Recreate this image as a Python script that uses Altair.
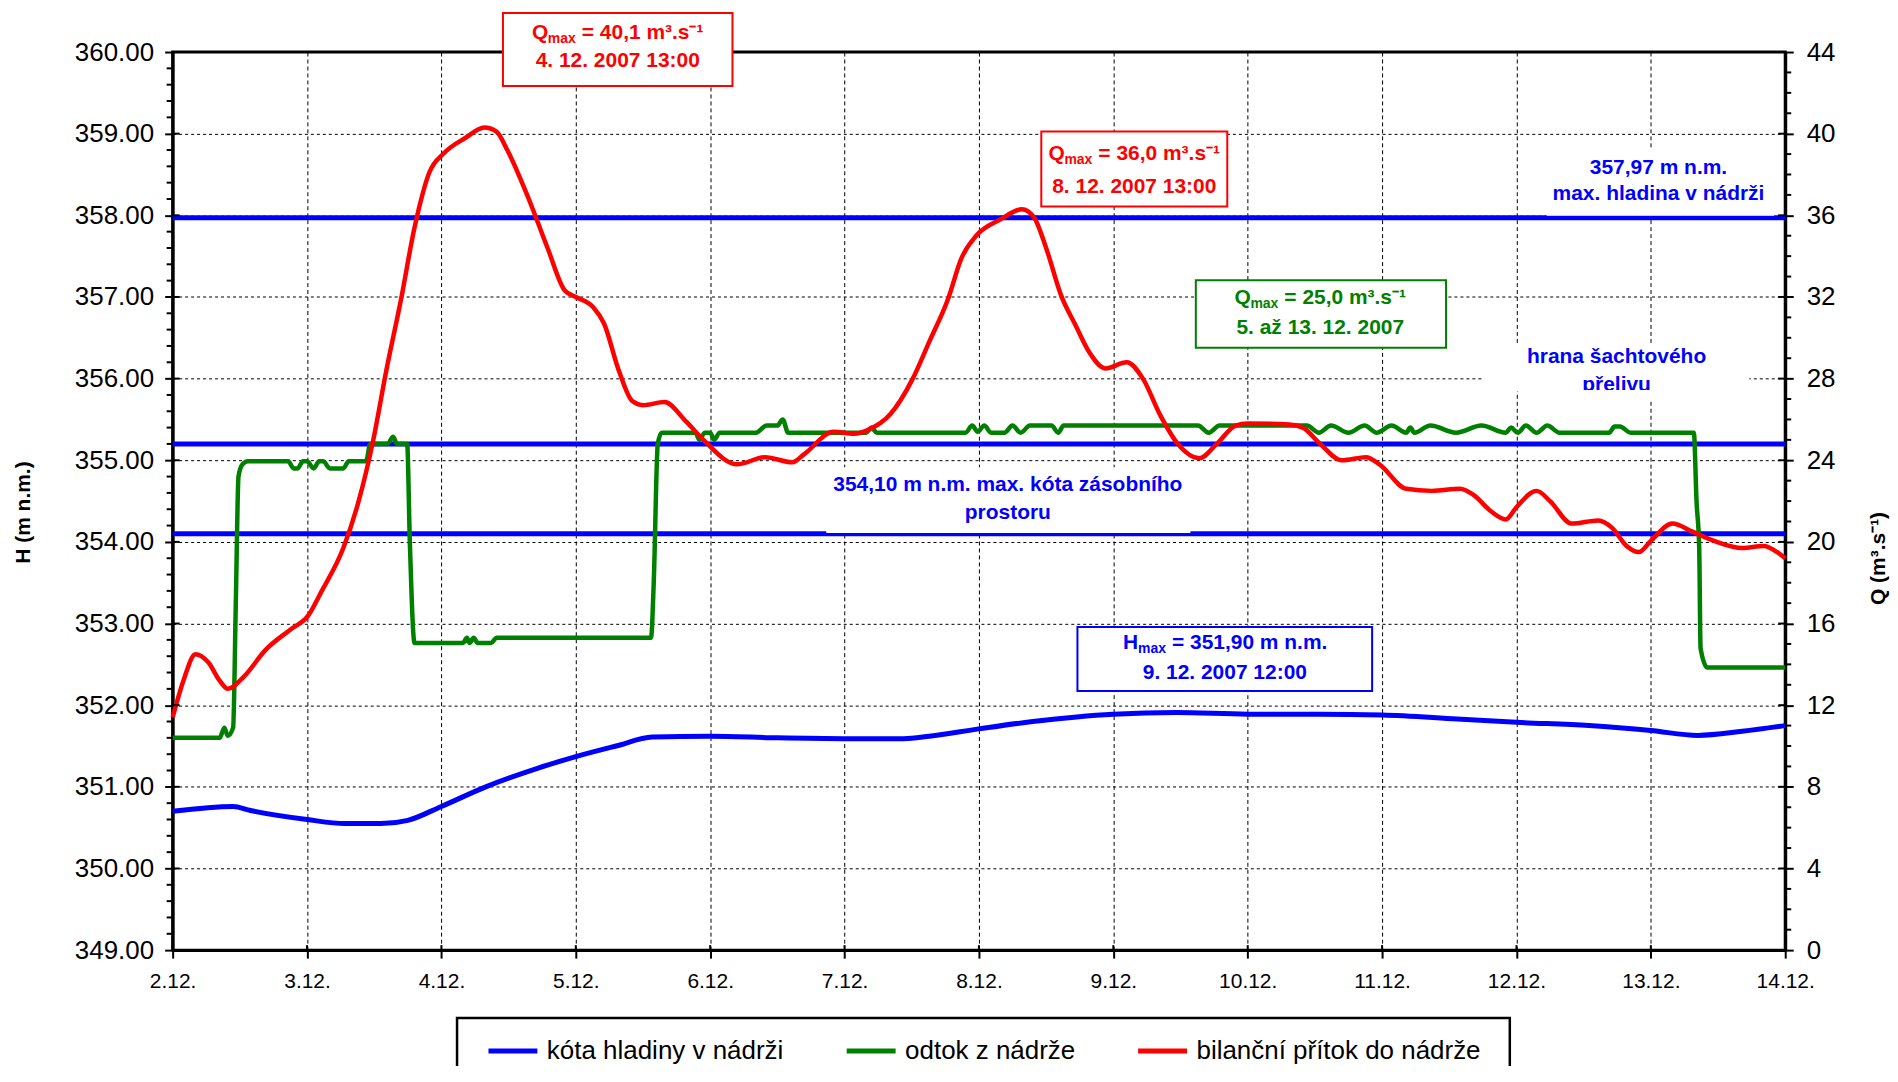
import altair as alt
import pandas as pd

# ---------------- data ----------------
day_labels = ["2.12.", "3.12.", "4.12.", "5.12.", "6.12.", "7.12.", "8.12.",
              "9.12.", "10.12.", "11.12.", "12.12.", "13.12.", "14.12."]
day_ticks = list(range(0, 13))
h_ticks = list(range(349, 361))
q_ticks = list(range(0, 45, 4))

series_names = ["kóta hladiny v nádrži", "odtok z nádrže", "bilanční přítok do nádrže"]
series_colors = ["#0000FF", "#008000", "#FF0000"]

# water level H (m n.m.), left axis
h_day = [0.0, 0.45, 0.58, 1.0, 1.28, 1.55, 1.75, 2.0, 2.33, 2.72, 3.0, 3.3, 3.57,
         4.0, 4.5, 5.0, 5.44, 5.63, 6.0, 6.4, 7.0, 7.47, 8.0, 8.53, 9.0, 9.56,
         10.0, 10.54, 11.0, 11.35, 11.68, 12.0]
h_val = [350.70, 350.76, 350.71, 350.60, 350.55, 350.55, 350.59, 350.76, 351.00,
         351.23, 351.37, 351.50, 351.61, 351.62, 351.60, 351.59, 351.59, 351.62,
         351.71, 351.80, 351.89, 351.91, 351.89, 351.89, 351.88, 351.83, 351.79,
         351.75, 351.69, 351.63, 351.68, 351.75]

# outflow Q (m3/s), right axis
out_day = [0.0, 0.35, 0.385, 0.41, 0.45, 0.47, 0.49, 0.52, 0.56, 0.86, 0.90, 0.93,
           0.97, 1.00, 1.05, 1.09, 1.12, 1.17, 1.27, 1.31, 1.44, 1.47, 1.60, 1.64,
           1.67, 1.745, 1.765, 1.80, 2.16, 2.19, 2.21, 2.24, 2.27, 2.37, 2.41, 3.56,
           3.58, 3.61, 3.64, 3.89, 3.92, 3.96, 4.00, 4.03, 4.07, 4.34, 4.42, 4.50,
           4.54, 4.58, 5.16, 5.20, 5.24, 5.90, 5.95, 5.99, 6.04, 6.09, 6.19, 6.25,
           6.31, 6.38, 6.54, 6.59, 6.63, 7.63, 7.71, 7.79, 8.44, 8.53, 8.62, 8.75,
           8.87, 8.96, 9.07, 9.18, 9.21, 9.24, 9.36, 9.55, 9.74, 9.92, 9.96, 10.01,
           10.07, 10.15, 10.23, 10.32, 10.38, 10.69, 10.73, 10.77, 10.85, 11.32,
           11.34, 11.36, 11.37, 11.42, 12.0]
out_q = [10.4, 10.4, 10.9, 10.5, 10.9, 17.0, 23.2, 23.8, 23.95, 23.95, 23.6, 23.6,
         23.95, 23.95, 23.6, 23.95, 23.95, 23.6, 23.6, 23.95, 23.95, 24.8, 24.8, 25.15,
         24.8, 24.8, 20.0, 15.05, 15.05, 15.3, 15.05, 15.3, 15.05, 15.05, 15.3, 15.3,
         18.0, 24.8, 25.35, 25.35, 25.0, 25.35, 25.35, 25.0, 25.35, 25.35, 25.7, 25.7,
         26.0, 25.35, 25.35, 25.6, 25.35, 25.35, 25.7, 25.4, 25.7, 25.35, 25.35, 25.7,
         25.35, 25.7, 25.7, 25.35, 25.7, 25.7, 25.35, 25.7, 25.7, 25.35, 25.7, 25.35,
         25.7, 25.35, 25.7, 25.35, 25.6, 25.35, 25.7, 25.35, 25.7, 25.35, 25.6, 25.35,
         25.7, 25.35, 25.7, 25.35, 25.35, 25.35, 25.65, 25.65, 25.35, 25.35,
         22.0, 19.7, 14.8, 13.85, 13.85]

# balance inflow Q (m3/s), right axis
in_day = [0.0, 0.08, 0.17, 0.265, 0.35, 0.41, 0.53, 0.69, 0.875, 1.01, 1.11, 1.27,
          1.38, 1.49, 1.59, 1.70, 1.80, 1.91, 2.02, 2.18, 2.32, 2.41, 2.49, 2.65,
          2.79, 2.92, 3.0, 3.13, 3.21, 3.32, 3.42, 3.5, 3.66, 3.82, 3.95, 4.2, 4.41,
          4.61, 4.70, 4.92, 5.07, 5.18, 5.34, 5.5, 5.63, 5.77, 5.87, 5.98, 6.16, 6.32,
          6.41, 6.5, 6.61, 6.72, 6.82, 6.94, 7.1, 7.22, 7.35, 7.48, 7.64, 7.77, 7.91,
          8.0, 8.31, 8.41, 8.54, 8.70, 8.88, 8.98, 9.18, 9.37, 9.58, 9.68, 9.81, 9.92,
          10.0, 10.15, 10.25, 10.41, 10.61, 10.71, 10.82, 10.91, 11.0, 11.16, 11.31,
          11.47, 11.68, 11.84, 11.94, 12.0]
in_q = [11.4, 13.2, 14.5, 14.1, 13.2, 12.8, 13.4, 14.7, 15.7, 16.4, 17.6, 19.7,
        21.9, 24.9, 28.4, 31.9, 35.4, 38.1, 39.05, 39.8, 40.3, 40.1, 39.2, 36.8,
        34.4, 32.3, 32.0, 31.5, 30.7, 28.4, 26.9, 26.7, 26.85, 25.9, 25.0, 23.8, 24.15,
        23.9, 24.3, 25.4, 25.3, 25.5, 26.25, 27.9, 29.8, 31.9, 33.9, 35.0, 35.8, 36.3,
        35.9, 34.4, 32.1, 30.6, 29.3, 28.5, 28.8, 28.0, 26.2, 24.8, 24.1, 24.8, 25.7,
        25.8, 25.75, 25.6, 24.8, 24.0, 24.15, 23.8, 22.6, 22.5, 22.6, 22.3, 21.5, 21.1,
        21.7, 22.5, 22.0, 20.9, 21.05, 20.7, 19.8, 19.5, 20.05, 20.9, 20.5,
        20.05, 19.7, 19.8, 19.5, 19.2]

ref_levels = [357.97, 355.20, 354.10]

# annotation boxes: (colour, x1, x2 in days; y1, y2 in m n.m.)
box_color = ["#FF0000", "#FF0000", "#008000", "#0000FF"]
box_x1 = [2.458, 6.464, 7.614, 6.733]
box_x2 = [4.166, 7.848, 9.476, 8.926]
box_y1 = [360.477, 359.026, 357.206, 352.958]
box_y2 = [359.584, 358.108, 356.377, 352.174]
box_cx = [3.312, 7.156, 8.54, 7.83]
box_l1y = [360.238, 358.745, 356.983, 352.765]
box_l2y = [359.884, 358.345, 356.614, 352.396]
box_sym = ["Q", "Q", "Q", "H"]
box_rest = ["= 40,1 m³.s⁻¹", "= 36,0 m³.s⁻¹", "= 25,0 m³.s⁻¹", "= 351,90 m n.m."]
box_line2 = ["4. 12. 2007 13:00", "8. 12. 2007 13:00", "5. až 13. 12. 2007", "9. 12. 2007 12:00"]
box_halfw = [86, 86, 86, 102]
box_symw = [16, 16, 16, 15]

# free blue labels with white background
lab_cx = [11.057, 11.057, 10.745, 10.745, 6.215, 6.215]
lab_y = [358.582, 358.256, 356.259, 355.917, 354.694, 354.352]
lab_text = ["357,97 m n.m.", "max. hladina v nádrži", "hrana šachtového", "přelivu",
            "354,10 m n.m. max. kóta zásobního", "prostoru"]
wbg_x1 = [10.225, 9.757, 4.864]
wbg_x2 = [11.918, 11.733, 7.574]
wbg_y1 = [358.814, 356.43, 354.914]
wbg_y2 = [357.995, 355.843, 354.11]

# ---------------- chart ----------------
W, H = 1616, 900
FONT = "Liberation Sans"

xscale = alt.Scale(domain=[0, 12], nice=False, zero=False)
hscale = alt.Scale(domain=[349, 360], nice=False, zero=False)
qscale = alt.Scale(domain=[0, 44], nice=False, zero=False)

label_expr = "[" + ",".join("'%s'" % s for s in day_labels) + "][datum.value]"
xaxis = alt.Axis(values=day_ticks, labelExpr=label_expr, title=None, grid=True,
                 gridDash=[4, 3], gridColor="black", gridWidth=1, gridOpacity=1,
                 tickSize=8, tickWidth=2, tickColor="black", domainColor="black",
                 domainWidth=3, labelFontSize=21, labelColor="black", labelPadding=12,
                 labelFlush=False, labelOverlap=False, labelFont=FONT)


def XN(f):
    return alt.X(f, scale=xscale, axis=xaxis, title=None)


def YH(f):
    return alt.Y(f, scale=hscale, axis=None)


left_axis = alt.Axis(orient="left", values=h_ticks, format=".2f", grid=True,
                     gridDash=[3, 3], gridColor="black", gridWidth=1, gridOpacity=1,
                     tickSize=8, tickWidth=2, tickColor="black", domainColor="black",
                     domainWidth=3, labelFontSize=26, labelColor="black", labelPadding=11,
                     labelFont=FONT, labelOverlap=False,
                     title="H (m n.m.)", titleFontSize=21, titleFontWeight="bold",
                     titleColor="black", titleFont=FONT, titleAngle=270, titleX=-149,
                     titleY=461, titleAlign="center", titleBaseline="middle")
right_axis = alt.Axis(orient="right", values=q_ticks, format="d", grid=False,
                      tickSize=8, tickWidth=2, tickColor="black", domainColor="black",
                      domainWidth=3, labelFontSize=26, labelColor="black", labelPadding=13,
                      labelFont=FONT, labelOverlap=False,
                      title="Q (m³.s⁻¹)", titleFontSize=21, titleFontWeight="bold",
                      titleColor="black", titleFont=FONT, titleAngle=270, titleX=93,
                      titleY=507, titleAlign="center", titleBaseline="middle")

legend = alt.Legend(title=None, orient="none", legendX=314, legendY=974,
                    direction="horizontal", columns=3, symbolType="stroke",
                    symbolSize=2401, symbolStrokeWidth=5, labelFontSize=26,
                    labelColor="black", labelFont=FONT, labelLimit=600, labelOffset=7,
                    columnPadding=52, padding=0, rowPadding=0)
COLOR = alt.Color("series:N", scale=alt.Scale(domain=series_names, range=series_colors),
                  legend=legend)

h_df = pd.DataFrame({"day": h_day, "v": h_val, "series": series_names[0]})
out_df = pd.DataFrame({"day": out_day, "v": out_q, "series": series_names[1]})
in_df = pd.DataFrame({"day": in_day, "v": in_q, "series": series_names[2]})

ref_layer = alt.Chart(pd.DataFrame({"h": ref_levels})).mark_rule(
    color="#0000FF", strokeWidth=5).encode(y=alt.Y("h:Q", scale=hscale, axis=None))

h_layer = alt.Chart(h_df).mark_line(strokeWidth=5, interpolate="monotone").encode(
    x=XN("day:Q"), y=alt.Y("v:Q", scale=hscale, axis=left_axis), color=COLOR)
out_layer = alt.Chart(out_df).mark_line(strokeWidth=4.5, interpolate="monotone").encode(
    x=XN("day:Q"), y=alt.Y("v:Q", scale=qscale, axis=right_axis), color=COLOR)
in_layer = alt.Chart(in_df).mark_line(strokeWidth=4.5, interpolate="monotone").encode(
    x=XN("day:Q"), y=alt.Y("v:Q", scale=qscale, axis=None), color=COLOR)

wbg_df = pd.DataFrame({"x1": wbg_x1, "x2": wbg_x2, "y1": wbg_y1, "y2": wbg_y2})
wbg_layer = alt.Chart(wbg_df).mark_rect(color="white").encode(
    x=XN("x1:Q"), x2="x2:Q", y=YH("y1:Q"), y2="y2:Q")

layers = [ref_layer, h_layer, out_layer, in_layer, wbg_layer]

for i in range(len(box_color)):
    c = box_color[i]
    bdf = pd.DataFrame({"x1": [box_x1[i]], "x2": [box_x2[i]], "y1": [box_y1[i]],
                        "y2": [box_y2[i]], "cx": [box_cx[i]], "l1": [box_l1y[i]],
                        "l2": [box_l2y[i]], "sym": [box_sym[i]], "rest": [box_rest[i]],
                        "sub": ["max"], "t2": [box_line2[i]]})
    base = alt.Chart(bdf)
    layers.append(base.mark_rect(fill="white", stroke=c, strokeWidth=2).encode(
        x=XN("x1:Q"), x2="x2:Q", y=YH("y1:Q"), y2="y2:Q"))
    hw = box_halfw[i]
    layers.append(base.mark_text(color=c, font=FONT, fontSize=21, fontWeight="bold",
                                 align="left", baseline="middle", dx=-hw).encode(
        x=XN("cx:Q"), y=YH("l1:Q"), text="sym:N"))
    layers.append(base.mark_text(color=c, font=FONT, fontSize=14, fontWeight="bold",
                                 align="left", baseline="middle", dx=-hw + box_symw[i],
                                 dy=6).encode(
        x=XN("cx:Q"), y=YH("l1:Q"), text="sub:N"))
    layers.append(base.mark_text(color=c, font=FONT, fontSize=21, fontWeight="bold",
                                 align="left", baseline="middle",
                                 dx=-hw + box_symw[i] + 34).encode(
        x=XN("cx:Q"), y=YH("l1:Q"), text="rest:N"))
    layers.append(base.mark_text(color=c, font=FONT, fontSize=21, fontWeight="bold",
                                 align="center", baseline="middle").encode(
        x=XN("cx:Q"), y=YH("l2:Q"), text="t2:N"))

lab_df = pd.DataFrame({"cx": lab_cx, "y": lab_y, "t": lab_text})
layers.append(alt.Chart(lab_df).mark_text(color="#0000FF", font=FONT, fontSize=21,
                                          fontWeight="bold", align="center",
                                          baseline="middle").encode(
    x=XN("cx:Q"), y=YH("y:Q"), text="t:N"))

# white cover: the spillway label box clips the lower part of its 2nd line
cover_df = pd.DataFrame({"x1": [10.41], "x2": [11.08], "y1": [355.86], "y2": [355.73]})
layers.append(alt.Chart(cover_df).mark_rect(color="white").encode(
    x=XN("x1:Q"), x2="x2:Q", y=YH("y1:Q"), y2="y2:Q"))

# minor ticks and inward halves of major ticks
lminor = pd.DataFrame({"t": [round(349 + 0.2 * i, 1) for i in range(56) if i % 5 != 0]})
layers.append(alt.Chart(lminor).mark_rule(color="black", strokeWidth=2).encode(
    y=YH("t:Q"), x=alt.value(-6), x2=alt.value(0)))
layers.append(alt.Chart(pd.DataFrame({"t": h_ticks})).mark_rule(
    color="black", strokeWidth=2).encode(y=YH("t:Q"), x=alt.value(0), x2=alt.value(7)))
rminor = pd.DataFrame({"t": [q for q in range(45) if q % 4 != 0]})
layers.append(alt.Chart(rminor).mark_rule(color="black", strokeWidth=2).encode(
    y=alt.Y("t:Q", scale=qscale, axis=None), x=alt.value(W), x2=alt.value(W + 6)))
layers.append(alt.Chart(pd.DataFrame({"t": q_ticks})).mark_rule(
    color="black", strokeWidth=2).encode(
    y=alt.Y("t:Q", scale=qscale, axis=None), x=alt.value(W - 7), x2=alt.value(W)))
layers.append(alt.Chart(pd.DataFrame({"t": day_ticks})).mark_rule(
    color="black", strokeWidth=2).encode(
    x=XN("t:Q"), y=alt.value(H - 5), y2=alt.value(H)))

# legend frame
layers.append(alt.Chart(pd.DataFrame({"k": [0]})).mark_rect(
    filled=False, color="black", strokeWidth=2.5).encode(
    x=alt.value(285), x2=alt.value(1340), y=alt.value(968), y2=alt.value(1080)))

chart = alt.layer(*layers).resolve_scale(y="independent").properties(
    width=W, height=H,
    autosize=alt.AutoSizeParams(type="none"),
    padding={"left": 165, "top": 43, "right": 105, "bottom": 115},
).configure(font=FONT).configure_view(stroke="black", strokeWidth=3)

chart.save("out.html", embed_options={"renderer": "svg", "actions": False})
